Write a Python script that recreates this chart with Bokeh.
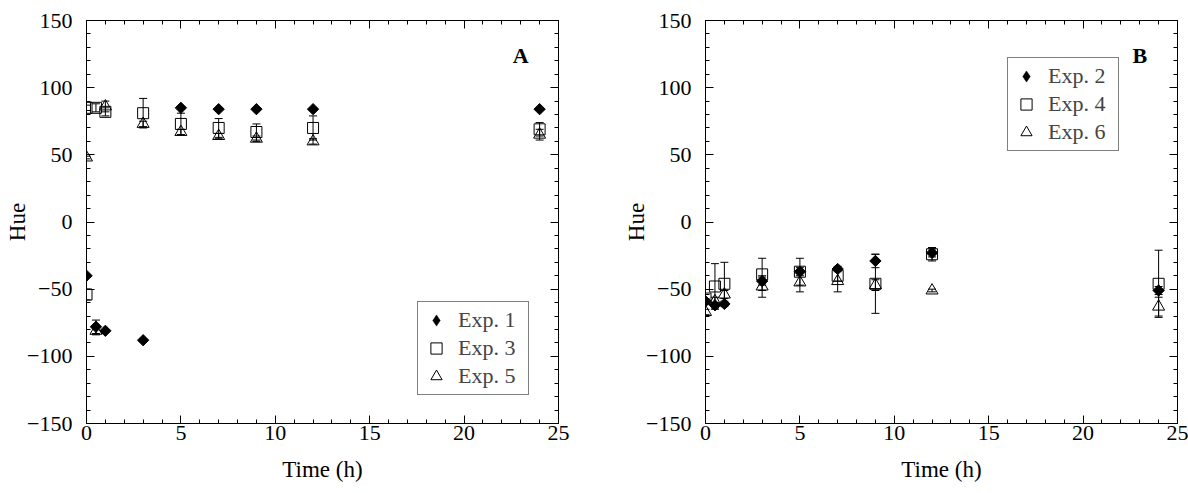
import math
from bokeh.plotting import figure
from bokeh.models import (ColumnDataSource, Whisker, TeeHead, Legend, LegendItem, Label,
                          LinearAxis, SingleIntervalTicker, Range1d, CustomJSTickFormatter)
from bokeh.layouts import row
from bokeh.embed import file_html
from bokeh.resources import INLINE

FONT = "Liberation Serif"

# ---------------- data ----------------
# Panel A
a_time_1 = [0, 0.5, 1, 3, 5, 7, 9, 12, 24]
a_hue_1 = [-40, -78, -81, -88, 85, 84, 84, 84, 84]
a_err_1 = [1, 5, 1, 1, 1, 1, 1, 1, 1]

a_time_3 = [0, 0, 0.5, 1, 3, 5, 7, 9, 12, 24]
a_hue_3 = [-54, 85, 85, 82, 81, 73, 70, 67, 70, 69]
a_err_3 = [4, 2, 3, 3, 11, 8, 7, 6, 9, 5]

a_time_5 = [0, 0.5, 1, 3, 5, 7, 9, 12, 24]
a_hue_5 = [48, -81, 86, 73, 67, 64, 62, 60, 65]
a_err_5 = [1, 3, 4, 2, 2, 2, 2, 2, 4]

# Panel B
b_time = [0, 0.5, 1, 3, 5, 7, 9, 12, 24]
b_hue_2 = [-59, -62, -61, -44, -37, -35, -29, -23, -51]
b_err_2 = [2, 2, 2, 3, 3, 2, 5, 3, 3]
b_hue_4 = [-57, -48, -46, -39, -37, -40, -46, -24, -46]
b_err_4 = [3, 17, 16, 12, 10, 4, 22, 5, 25]
b_hue_6 = [-67, -59, -54, -48, -45, -44, -47, -51, -63]
b_err_6 = [2, 3, 3, 8, 7, 8, 4, 1, 7]

x_ticks_label = {0: "0", 5: "5", 10: "10", 15: "15", 20: "20", 25: "25"}
y_ticks_label = {-150: "\u2212150", -100: "\u2212100", -50: "\u221250",
                 0: "0", 50: "50", 100: "100", 150: "150"}

TICK_FS = "22px"
LABEL_FS = "23px"


def style_axis(ax, show_labels):
    ax.axis_line_color = "black"
    ax.axis_line_width = 1
    ax.major_tick_line_color = "black"
    ax.minor_tick_line_color = "black"
    ax.major_tick_in = 8
    ax.major_tick_out = 0
    ax.minor_tick_in = 4
    ax.minor_tick_out = 0
    if show_labels:
        ax.major_label_text_font = FONT
        ax.major_label_text_font_size = TICK_FS
        ax.major_label_text_color = "black"
    else:
        ax.formatter = CustomJSTickFormatter(code="return ''")
        ax.major_label_text_font_size = "1px"
        ax.major_label_standoff = 0


def make_panel(width, left, right, series, tag, legend_loc):
    p = figure(width=width, height=493, x_range=Range1d(0, 25), y_range=Range1d(-150, 150),
               output_backend="svg", toolbar_location=None,
               min_border_left=left, min_border_right=right,
               min_border_top=20, min_border_bottom=70)
    p.grid.visible = False
    p.outline_line_color = "black"
    p.background_fill_color = "white"
    p.border_fill_color = "white"

    xa = p.xaxis[0]
    xa.ticker = SingleIntervalTicker(interval=5, num_minor_ticks=5)
    xa.major_label_overrides = x_ticks_label
    xa.axis_label = "Time (h)"
    xa.axis_label_text_font = FONT
    xa.axis_label_text_font_size = LABEL_FS
    xa.axis_label_text_font_style = "normal"
    xa.axis_label_text_color = "black"
    xa.axis_label_standoff = 14
    xa.major_label_standoff = 2
    style_axis(xa, True)

    ya = p.yaxis[0]
    ya.ticker = SingleIntervalTicker(interval=50, num_minor_ticks=5)
    ya.major_label_overrides = y_ticks_label
    ya.major_label_standoff = 14
    ya.axis_label = "Hue"
    ya.axis_label_text_font = FONT
    ya.axis_label_text_font_size = LABEL_FS
    ya.axis_label_text_font_style = "normal"
    ya.axis_label_text_color = "black"
    ya.axis_label_standoff = -6
    style_axis(ya, True)

    top = LinearAxis(ticker=SingleIntervalTicker(interval=5, num_minor_ticks=5))
    style_axis(top, False)
    p.add_layout(top, "above")
    rgt = LinearAxis(ticker=SingleIntervalTicker(interval=50, num_minor_ticks=5))
    style_axis(rgt, False)
    p.add_layout(rgt, "right")

    items = []
    for (t, h, e, marker, label) in series:
        src = ColumnDataSource(dict(t=t, h=h,
                                    lo=[hv - ev for hv, ev in zip(h, e)],
                                    hi=[hv + ev for hv, ev in zip(h, e)]))
        w = Whisker(base="t", upper="hi", lower="lo", source=src, dimension="height",
                    line_color="black", line_width=1,
                    upper_head=TeeHead(size=8, line_color="black", line_width=1),
                    lower_head=TeeHead(size=8, line_color="black", line_width=1))
        p.add_layout(w)
        if marker == "diamond":
            # small diamond hidden under the rotated square; it gives the legend its glyph
            r = p.scatter("t", "h", source=src, marker="diamond", size=6,
                          fill_color="black", line_color="black", line_width=0.5)
            p.scatter("t", "h", source=src, marker="square", angle=math.pi / 4, size=8,
                      fill_color="black", line_color="black", line_width=1)
        elif marker == "square":
            r = p.scatter("t", "h", source=src, marker="square", size=11,
                          fill_color=None, line_color="black", line_width=1)
        else:
            r = p.scatter("t", "h", source=src, marker="triangle", size=12,
                          fill_color=None, line_color="black", line_width=1)
        items.append(LegendItem(label=label, renderers=[r]))

    leg = Legend(items=items, location=legend_loc,
                 label_text_font=FONT, label_text_font_size=TICK_FS,
                 border_line_color="black", border_line_width=1,
                 background_fill_color="white", background_fill_alpha=1,
                 glyph_width=28, glyph_height=28, label_height=28, label_width=66,
                 spacing=0, padding=4, margin=0, label_standoff=8)
    p.add_layout(leg, "center")

    lab = Label(x=23.0, y=124, text=tag, text_align="center", text_baseline="middle",
                text_font=FONT, text_font_size="22px", text_font_style="bold",
                text_color="black")
    p.add_layout(lab)
    return p


pA = make_panel(621, 86, 63,
                [(a_time_1, a_hue_1, a_err_1, "diamond", "Exp. 1"),
                 (a_time_3, a_hue_3, a_err_3, "square", "Exp. 3"),
                 (a_time_5, a_hue_5, a_err_5, "triangle", "Exp. 5")],
                "A", (331, 28))
pB = make_panel(567, 84, 11,
                [(b_time, b_hue_2, b_err_2, "diamond", "Exp. 2"),
                 (b_time, b_hue_4, b_err_4, "square", "Exp. 4"),
                 (b_time, b_hue_6, b_err_6, "triangle", "Exp. 6")],
                "B", (302, 272))

layout = row(pA, pB)
open("out.html", "w").write(file_html(layout, INLINE))
